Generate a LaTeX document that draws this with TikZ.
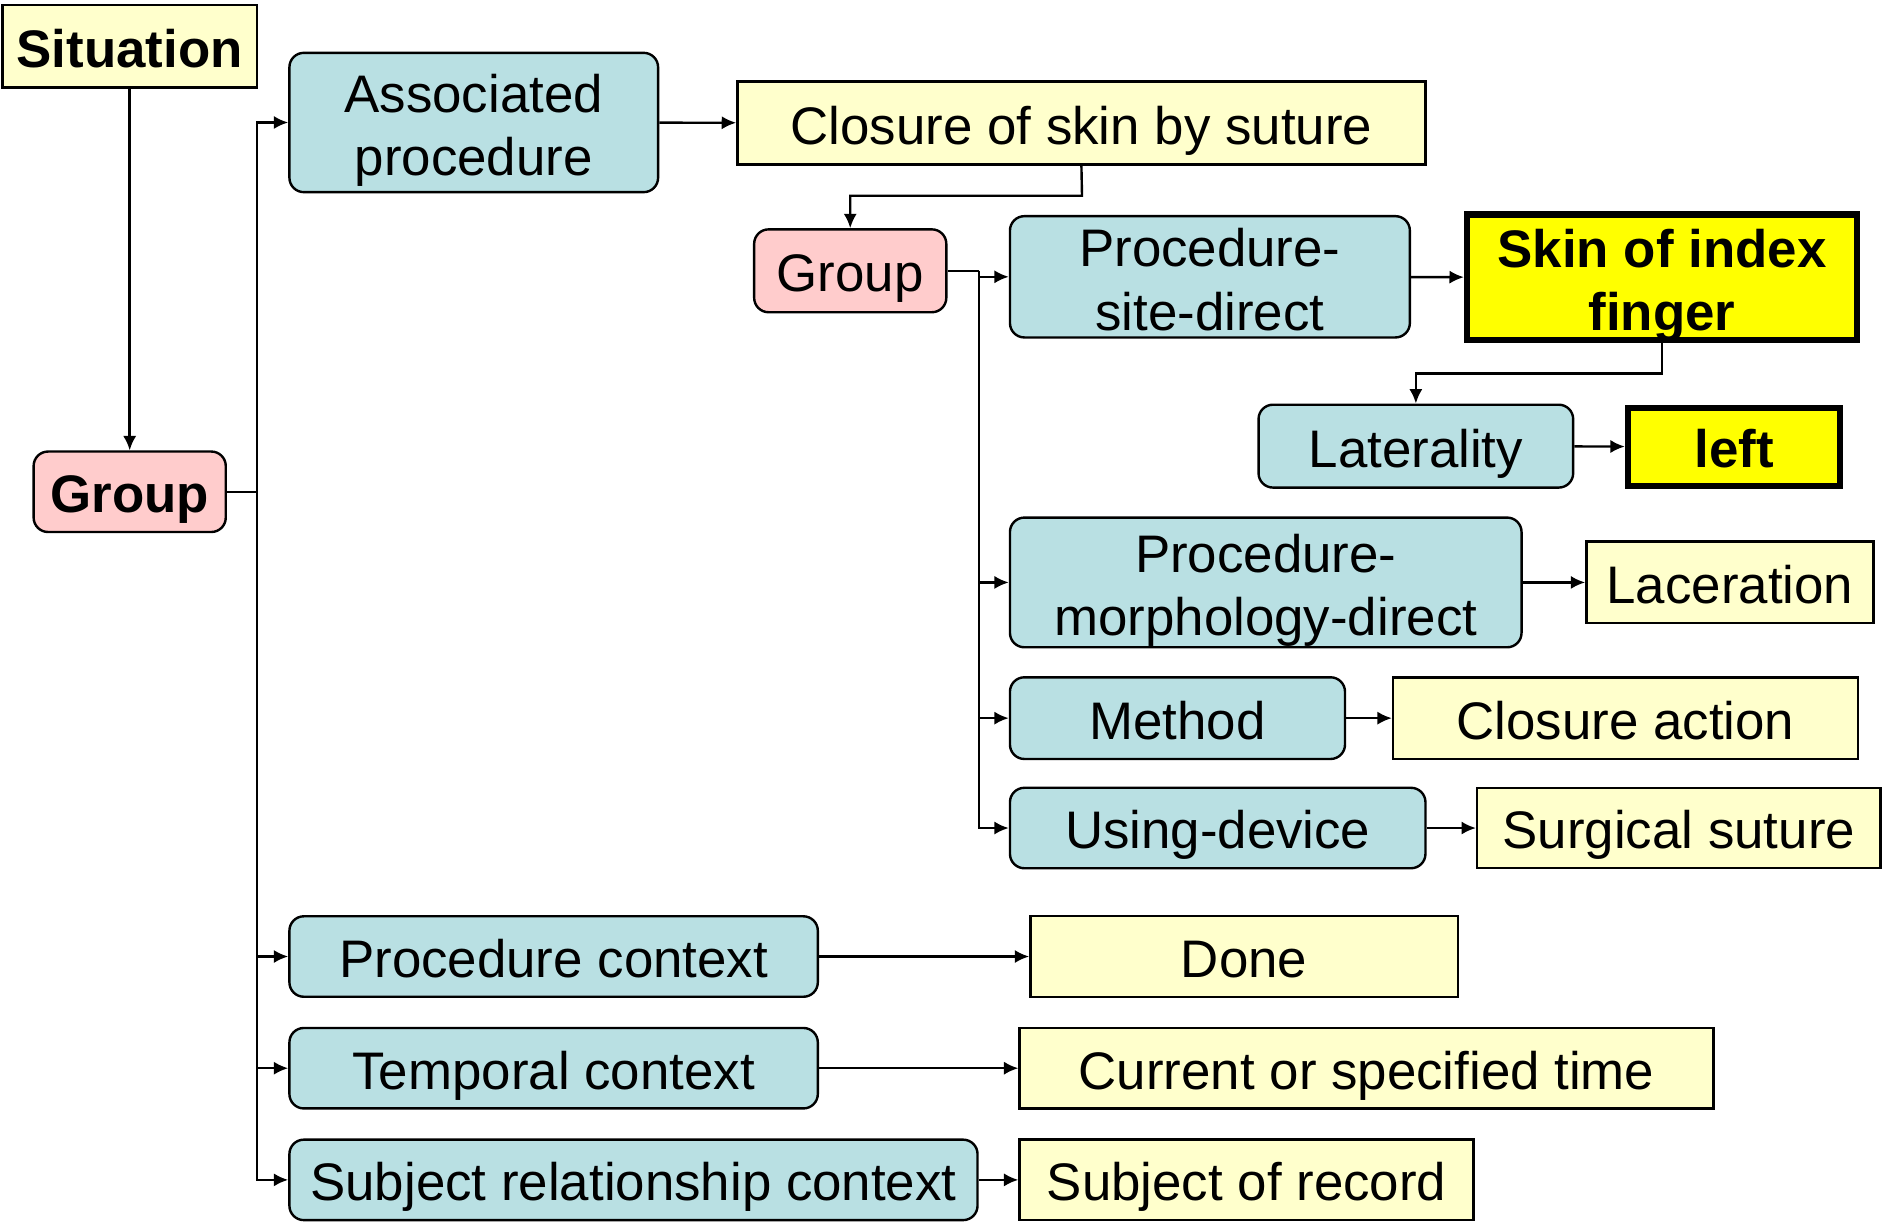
\documentclass[tikz,border=0pt]{standalone}
\usepackage{fontspec}
\setmainfont{Liberation Sans}
\usetikzlibrary{arrows.meta}

\definecolor{paleyellow}{HTML}{FFFFCC}
\definecolor{paleteal}{HTML}{B9E0E3}
\definecolor{palepink}{HTML}{FFCCCC}
\definecolor{brightyellow}{HTML}{FFFF00}

\begin{document}
\begin{tikzpicture}[x=0.5pt, y=-0.5pt, line width=1pt,
  every node/.style={font=\fontsize{22}{26.5}\selectfont, inner sep=2pt, align=center,
    execute at begin node={\rule{0pt}{1.0em}}, execute at end node={\rule[-0.2em]{0pt}{0pt}}},
  twoline/.style={text height=44.4pt, text depth=0pt},
  concept/.style={draw, fill=paleyellow},
  attr/.style={draw, fill=paleteal, rounded corners=6pt},
  grp/.style={draw, fill=palepink, rounded corners=6pt},
  value/.style={draw, fill=brightyellow, line width=2.6pt, font=\fontsize{22}{26.5}\selectfont\bfseries},
  arr/.style={-{Latex[length=6pt,width=5.5pt]}}]
  \useasboundingbox (0,0) rectangle (1568,1017);
  % top level
  \node[concept, minimum width=106pt, minimum height=34.5pt, font=\fontsize{22}{26.5}\selectfont\bfseries]
    (situation) at (108,38.5) {Situation};
  \node[grp, minimum width=80pt, minimum height=33.5pt, font=\fontsize{22}{26.5}\selectfont\bfseries]
    (groupA) at (108,409.5) {Group};
  \node[attr, twoline, minimum width=153.5pt, minimum height=58pt] (assocproc) at (394.5,102) {Associated\\procedure};
  \node[concept, minimum width=286.5pt, minimum height=34.5pt] (closure) at (900.5,102.5) {Closure of skin by suture};
  % nested group
  \node[grp, minimum width=80pt, minimum height=34.5pt] (groupB) at (708,225.5) {Group};
  \node[attr, twoline, minimum width=166.5pt, minimum height=50.5pt] (sitedirect) at (1007.5,230.5) {Procedure-\\site-direct};
  \node[value, twoline, minimum width=162.4pt, minimum height=52.4pt] (skin) at (1384,231) {Skin of index\\finger};
  \node[attr, minimum width=131pt, minimum height=34.5pt] (laterality) at (1179,371.5) {Laterality};
  \node[value, minimum width=88.4pt, minimum height=32.4pt] (left) at (1444,372) {left};
  \node[attr, twoline, minimum width=213pt, minimum height=54pt] (morphdirect) at (1054,485) {Procedure-\\morphology-direct};
  \node[concept, minimum width=119.5pt, minimum height=34pt] (laceration) at (1440.5,485) {Laceration};
  \node[attr, minimum width=139.5pt, minimum height=34pt] (method) at (980.5,598) {Method};
  \node[concept, minimum width=193.5pt, minimum height=34pt] (closeaction) at (1353.5,598) {Closure action};
  \node[attr, minimum width=173pt, minimum height=33.5pt] (usingdevice) at (1014,689.5) {Using-device};
  \node[concept, minimum width=168pt, minimum height=33.5pt] (suture) at (1398,689.5) {Surgical suture};
  % context
  \node[attr, minimum width=220pt, minimum height=33.5pt] (proccontext) at (461,796.5) {Procedure context};
  \node[concept, minimum width=178pt, minimum height=33.5pt] (done) at (1036,796.5) {Done};
  \node[attr, minimum width=220pt, minimum height=33.5pt] (tempcontext) at (461,889.5) {Temporal context};
  \node[concept, minimum width=289pt, minimum height=33.5pt] (curtime) at (1138,889.5) {Current or specified time};
  \node[attr, minimum width=286.5pt, minimum height=33.5pt] (subjcontext) at (527.5,982.5) {Subject relationship context};
  \node[concept, minimum width=189pt, minimum height=33.5pt] (subjrecord) at (1038,982.5) {Subject of record};
  % connectors
  \coordinate (trunkA) at (214,409.5);
  \coordinate (trunkB) at (815,225.5);
  \coordinate (bendA) at (901,163);
  \coordinate (bendB) at (1384,311);
  \draw[arr] (situation) -- (groupA);
  \draw (groupA) -- (trunkA);
  \foreach \t in {assocproc, proccontext, tempcontext, subjcontext}
    \draw[arr] (trunkA) |- (\t);
  \draw[arr] (assocproc) -- (closure);
  \draw[arr] (closure.south) -- (bendA) -| (groupB);
  \draw (groupB) -- (trunkB);
  \foreach \t in {sitedirect, morphdirect, method, usingdevice}
    \draw[arr] (trunkB) |- (\t);
  \draw[arr] (sitedirect) -- (skin);
  \draw[arr] (skin.south) -- (bendB) -| (laterality);
  \draw[arr] (laterality) -- (left);
  \draw[arr] (morphdirect) -- (laceration);
  \draw[arr] (method) -- (closeaction);
  \draw[arr] (usingdevice) -- (suture);
  \draw[arr] (proccontext) -- (done);
  \draw[arr] (tempcontext) -- (curtime);
  \draw[arr] (subjcontext) -- (subjrecord);
\end{tikzpicture}
\end{document}
